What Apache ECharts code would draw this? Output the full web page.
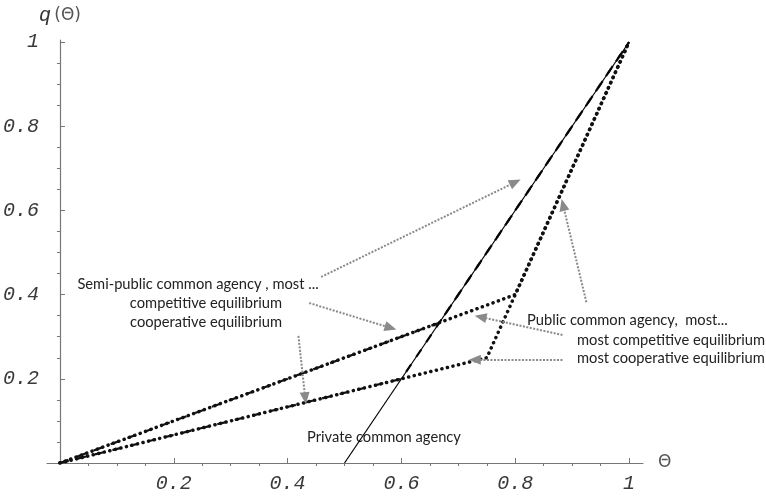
<!DOCTYPE html>
<html>
<head>
<meta charset="utf-8">
<script src="https://cdn.jsdelivr.net/npm/echarts@6/dist/echarts.min.js"></script>
<style>
  html, body { margin: 0; padding: 0; background: #fff; }
  #chart { width: 766px; height: 496px; }
</style>
</head>
<body>
<div id="chart"></div>
<script>
// axis ticks
const majorTicks = [0.2, 0.4, 0.6, 0.8, 1];
const minorTicks = [0.05, 0.1, 0.15, 0.25, 0.3, 0.35, 0.45, 0.5, 0.55, 0.65, 0.7, 0.75, 0.85, 0.9, 0.95];

// curves (theta, q)
const privateX = [0.5, 1];
const privateY = [0, 1];
const publicCompX = [0, 0.8, 1];
const publicCompY = [0, 0.4, 1];
const publicCoopX = [0, 0.75, 1];
const publicCoopY = [0, 0.25, 1];
const semiCompX = [0, 0.6667, 1];
const semiCompY = [0, 0.3333, 1];
const semiCoopX = [0, 0.6, 1];
const semiCoopY = [0, 0.2, 1];

// annotation arrows [tail theta, tail q, head theta, head q]
const arrows = [
  [0.459, 0.442, 0.800, 0.667],
  [0.438, 0.380, 0.581, 0.321],
  [0.419, 0.302, 0.431, 0.154],
  [0.925, 0.382, 0.884, 0.613],
  [0.883, 0.304, 0.739, 0.347],
  [0.883, 0.245, 0.729, 0.245]
];

function pairs(xs, ys) {
  return xs.map((x, i) => [x, ys[i]]);
}

const chart = echarts.init(document.getElementById('chart'));

const monoLabel = {
  fontFamily: 'Liberation Mono',
  fontStyle: 'italic',
  fontSize: 20,
  color: '#3a3a3a'
};
const fmt = v => String(Number(v.toFixed(2)));
const axisCol = '#777';

const dotted = { width: 3.5, type: [0.1, 5.6], cap: 'round', color: '#111' };
const dashed = { width: 2.2, type: [9, 9], color: '#111' };
const noteFont = '14.7px Lato, "Open Sans", sans-serif';

function note(text, x, y, align) {
  return {
    type: 'text', x: x, y: y,
    style: { text: text, align: align, verticalAlign: 'middle', font: noteFont, fill: '#222' }
  };
}

const option = {
  animation: false,
  backgroundColor: '#fff',
  grid: { left: 45, right: 123, top: 40, bottom: 33 },
  xAxis: [
    {
      type: 'value', min: -0.0228, max: 1.0245,
      name: 'Θ', nameLocation: 'end', nameGap: 15,
      nameTextStyle: { fontFamily: 'DejaVu Sans', fontSize: 17, color: '#555' },
      axisLine: { show: true, onZero: false, lineStyle: { color: axisCol, width: 1.2 } },
      axisTick: { show: true, inside: true, length: 5, customValues: majorTicks, lineStyle: { color: axisCol } },
      axisLabel: Object.assign({ customValues: majorTicks, formatter: fmt, margin: 11 }, monoLabel),
      splitLine: { show: false }
    },
    {
      type: 'value', min: -0.0228, max: 1.0245,
      axisLine: { show: false },
      axisTick: { show: true, inside: true, length: 3, customValues: minorTicks, lineStyle: { color: axisCol } },
      axisLabel: { show: false },
      splitLine: { show: false }
    }
  ],
  yAxis: [
    {
      type: 'value', min: 0, max: 1.0048,
      name: '{q|q} {t|(Θ)}', nameLocation: 'end', nameGap: 14,
      nameTextStyle: {
        align: 'center',
        rich: {
          q: { fontFamily: 'Liberation Mono', fontStyle: 'italic', fontSize: 20, color: '#333' },
          t: { fontFamily: 'DejaVu Sans', fontSize: 17, color: '#555' }
        }
      },
      axisLine: { show: true, onZero: true, onZeroAxisIndex: 0, lineStyle: { color: axisCol, width: 1.2 } },
      axisTick: { show: true, inside: true, length: 5, customValues: majorTicks, lineStyle: { color: axisCol } },
      axisLabel: Object.assign({ customValues: majorTicks, formatter: fmt, margin: 8 }, monoLabel),
      splitLine: { show: false }
    },
    {
      type: 'value', min: 0, max: 1.0048,
      axisLine: { show: false, onZero: true, onZeroAxisIndex: 0 },
      axisTick: { show: true, inside: true, length: 3, customValues: minorTicks, lineStyle: { color: axisCol } },
      axisLabel: { show: false },
      splitLine: { show: false }
    }
  ],
  series: [
    {
      name: 'Public competitive', type: 'line', data: pairs(publicCompX, publicCompY),
      symbol: 'none', lineStyle: dotted, z: 2
    },
    {
      name: 'Public cooperative', type: 'line', data: pairs(publicCoopX, publicCoopY),
      symbol: 'none', lineStyle: dotted, z: 2
    },
    {
      name: 'Semi-public competitive', type: 'line', data: pairs(semiCompX, semiCompY),
      symbol: 'none', lineStyle: dashed, z: 3
    },
    {
      name: 'Semi-public cooperative', type: 'line', data: pairs(semiCoopX, semiCoopY),
      symbol: 'none', lineStyle: dashed, z: 3
    },
    {
      name: 'Private', type: 'line', data: pairs(privateX, privateY),
      symbol: 'none', lineStyle: { width: 1.2, color: '#000' }, z: 4
    },
    {
      name: 'notes', type: 'line', data: [], z: 5,
      markLine: {
        silent: true,
        symbol: ['none', 'triangle'],
        symbolSize: [10, 12],
        label: { show: false },
        lineStyle: { color: '#8a8a8a', width: 2, type: [2, 1.5] },
        itemStyle: { color: '#8a8a8a' },
        emphasis: { disabled: true },
        data: arrows.map(a => [{ coord: [a[0], a[1]] }, { coord: [a[2], a[3]] }])
      }
    }
  ],
  graphic: [
    note('Semi-public common agency , most ...', 198, 284, 'center'),
    note('competitive equilibrium', 206, 303, 'center'),
    note('cooperative equilibrium', 206, 322, 'center'),
    note('Public common agency,  most...', 527, 320, 'left'),
    note('most competitive equilibrium', 577, 340, 'left'),
    note('most cooperative equilibrium', 577, 358, 'left'),
    note('Private common agency', 307, 437, 'left')
  ]
};

chart.setOption(option);
</script>
</body>
</html>
